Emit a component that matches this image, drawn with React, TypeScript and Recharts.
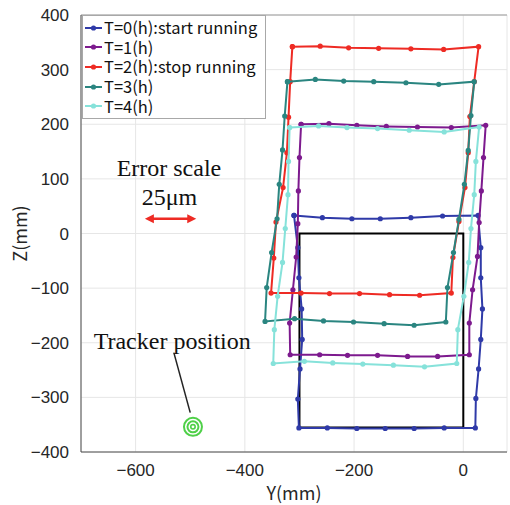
import React from 'react';
import {
  ScatterChart, Scatter, XAxis, YAxis, CartesianGrid, Legend,
  ReferenceArea, ReferenceLine, ReferenceDot,
} from 'recharts';

type P = { y: number; z: number };
const toPts = (a: number[][]): P[] => a.map(([y, z]) => ({ y, z }));

// Series (Y mm, Z mm), closed polygons traced clockwise from the top-left corner
const T0 = toPts([
  [-310, 33], [-258, 29], [-204, 27], [-152, 27], [-96, 29], [-38, 32], [27, 33],
  [32, -26], [32, -81], [35, -138], [32, -194], [28, -248], [23, -302], [22, -356],
  [-35, -356], [-90, -357], [-143, -357], [-195, -357], [-249, -356], [-301, -356],
  [-303, -303], [-299, -248], [-295, -194], [-296, -138], [-301, -81], [-303, -26], [-310, 33],
]);
const T1 = toPts([
  [-297, 200], [-246, 201], [-195, 198], [-141, 196], [-84, 195], [-22, 194], [41, 198],
  [37, 139], [33, 78], [29, 20], [26, -42], [17, -103], [11, -164], [11, -222],
  [-47, -225], [-102, -225], [-157, -223], [-212, -223], [-263, -222], [-317, -222],
  [-318, -164], [-312, -103], [-306, -43], [-303, 18], [-302, 78], [-300, 139], [-297, 200],
]);
const T2 = toPts([
  [-313, 342], [-262, 343], [-210, 340], [-155, 339], [-96, 338], [-36, 337], [28, 342],
  [20, 278], [12, 214], [9, 148], [3, 84], [-8, 22], [-19, -44], [-22, -109],
  [-80, -113], [-135, -112], [-190, -110], [-245, -110], [-297, -109], [-352, -109],
  [-347, -45], [-343, 21], [-330, 84], [-323, 148], [-320, 213], [-317, 278], [-313, 342],
]);
const T3 = toPts([
  [-322, 278], [-271, 282], [-219, 279], [-164, 278], [-105, 276], [-45, 273], [20, 278],
  [14, 216], [9, 152], [2, 90], [-8, 26], [-18, -35], [-29, -99], [-32, -162],
  [-90, -168], [-145, -165], [-201, -162], [-256, -160], [-309, -156], [-363, -161],
  [-360, -99], [-351, -35], [-341, 27], [-337, 90], [-331, 153], [-327, 215], [-322, 278],
]);
const T4 = toPts([
  [-318, 194], [-265, 197], [-213, 194], [-157, 192], [-99, 189], [-35, 186], [29, 195],
  [23, 132], [20, 71], [14, 9], [10, -53], [1, -115], [-10, -176], [-12, -238],
  [-71, -244], [-128, -241], [-184, -239], [-239, -237], [-291, -234], [-348, -238],
  [-346, -176], [-340, -115], [-331, -53], [-326, 9], [-321, 71], [-320, 132], [-318, 194],
]);

const seriesNames = ['T=0(h):start running', 'T=1(h)', 'T=2(h):stop running', 'T=3(h)', 'T=4(h)'];
const seriesColors = ['#2f3aa8', '#7d1a8e', '#ee2b24', '#2a8580', '#86e2da'];
const seriesData = [T0, T1, T2, T3, T4];

// Reference square (Y range, Z range)
const rectY = [-300, 0];
const rectZ = [-355, 0];

// Annotations
const trackerPos = { y: -495, z: -354 };
const trackerLeader = [{ x: -530, y: -218 }, { x: -500, y: -328 }];
const errorArrow = [{ x: -583, y: 27 }, { x: -489, y: 27 }];
const textNotes = [
  { y: -539, z: 106, text: 'Error scale' },
  { y: -538, z: 53, text: '25μm' },
  { y: -533, z: -211, text: 'Tracker position' },
];

const xTicks = [-600, -400, -200, 0];
const yTicks = [-400, -300, -200, -100, 0, 100, 200, 300, 400];

const SANS = '"Noto Sans CJK JP", "Noto Sans", sans-serif';
const SERIF = '"Liberation Serif", "DejaVu Serif", serif';
const TICKFONT = '"Liberation Sans", Arial, sans-serif';
const fmtTick = (v: number) => (v < 0 ? `\u2212${Math.abs(v)}` : `${v}`);

const makeDot = (color: string) => (props: any) => {
  const { cx, cy } = props;
  if (cx == null || cy == null) return <g />;
  return <circle cx={cx} cy={cy} r={2.6} fill={color} stroke="none" />;
};

const LegendBox = () => (
  <div
    style={{
      border: '1px solid #a8a8a8',
      background: '#fff',
      padding: '2px 8px 2px 2px',
      fontFamily: SANS,
      fontSize: 16.5,
      color: '#111',
      width: 'max-content',
    }}
  >
    {seriesNames.map((n, i) => (
      <div key={n} style={{ display: 'flex', alignItems: 'center', whiteSpace: 'nowrap', height: 19.6 }}>
        <svg width={18} height={10} style={{ marginRight: 1 }}>
          <line x1={0} y1={5} x2={17} y2={5} stroke={seriesColors[i]} strokeWidth={2} />
          <circle cx={8.5} cy={5} r={2.6} fill={seriesColors[i]} />
        </svg>
        <span style={{ display: 'inline-block', lineHeight: '17px', height: 17 }}>{n}</span>
      </div>
    ))}
  </div>
);

const Arrow = (props: any) => {
  const { x1, y1, x2, y2 } = props;
  const c = '#ee2b24';
  return (
    <g>
      <line x1={x1 + 4} y1={y1} x2={x2 - 4} y2={y2} stroke={c} strokeWidth={2.5} />
      <path d={`M${x1},${y1} L${x1 + 9},${y1 - 4.5} L${x1 + 9},${y1 + 4.5} Z`} fill={c} />
      <path d={`M${x2},${y2} L${x2 - 9},${y2 - 4.5} L${x2 - 9},${y2 + 4.5} Z`} fill={c} />
    </g>
  );
};

const Tracker = (props: any) => {
  const { cx, cy } = props;
  const g = '#4fd048';
  return (
    <g>
      <circle cx={cx} cy={cy} r={9} fill="none" stroke={g} strokeWidth={2} />
      <circle cx={cx} cy={cy} r={5.5} fill="none" stroke={g} strokeWidth={2} />
      <circle cx={cx} cy={cy} r={2.2} fill="none" stroke={g} strokeWidth={1.6} />
    </g>
  );
};

const makeText = (text: string) => (props: any) => {
  const { cx, cy } = props;
  return (
    <text x={cx} y={cy} textAnchor="middle" fontFamily={SERIF} fontSize={24} fill="#111">
      {text}
    </text>
  );
};

export default function App() {
  return (
    <div style={{ position: 'absolute', left: 0, top: 0, background: '#fff' }}>
      <ScatterChart width={510} height={505} margin={{ top: 15, right: 3, left: 5, bottom: 5 }}>
        <CartesianGrid stroke="#e6e6e6" strokeWidth={1} />
        <XAxis
          type="number"
          dataKey="y"
          domain={[-700, 80]}
          allowDataOverflow
          ticks={xTicks}
          tickFormatter={fmtTick}
          tickLine={false}
          tickMargin={6}
          height={48}
          stroke="#4a4a4a"
          tick={{ fill: '#262626', fontSize: 17, fontFamily: TICKFONT }}
          label={{ value: 'Y(mm)', position: 'insideBottom', offset: 0, fill: '#262626', fontSize: 18, fontFamily: SANS }}
        />
        <YAxis
          type="number"
          dataKey="z"
          domain={[-400, 400]}
          allowDataOverflow
          ticks={yTicks}
          tickFormatter={fmtTick}
          tickLine={false}
          tickMargin={6}
          width={76}
          stroke="#4a4a4a"
          tick={{ fill: '#262626', fontSize: 17, fontFamily: TICKFONT }}
          label={{ value: 'Z(mm)', angle: -90, position: 'insideLeft', offset: 16, fill: '#262626', fontSize: 18, fontFamily: SANS, style: { textAnchor: 'middle' } }}
        />
        <ReferenceLine y={400} stroke="#9a9a9a" strokeWidth={1} />
        <ReferenceArea
          x1={rectY[0]} x2={rectY[1]} y1={rectZ[0]} y2={rectZ[1]}
          fill="none" fillOpacity={0} stroke="#000" strokeWidth={2}
        />
        {seriesData.map((d, i) => (
          <Scatter
            key={seriesNames[i]}
            name={seriesNames[i]}
            data={d}
            fill={seriesColors[i]}
            line={{ stroke: seriesColors[i], strokeWidth: 2 }}
            lineJointType="linear"
            shape={makeDot(seriesColors[i])}
            isAnimationActive={false}
          />
        ))}
        <ReferenceLine segment={trackerLeader} stroke="#222" strokeWidth={1.5} />
        <ReferenceLine segment={errorArrow} shape={Arrow} />
        <ReferenceDot x={trackerPos.y} y={trackerPos.z} shape={Tracker} />
        {textNotes.map((t) => (
          <ReferenceDot key={t.text} x={t.y} y={t.z} shape={makeText(t.text)} />
        ))}
        <Legend
          content={LegendBox}
          layout="vertical"
          verticalAlign="middle"
          align="center"
          wrapperStyle={{ position: 'absolute', left: 82, top: 15, width: 'auto', height: 'auto' }}
        />
      </ScatterChart>
    </div>
  );
}
